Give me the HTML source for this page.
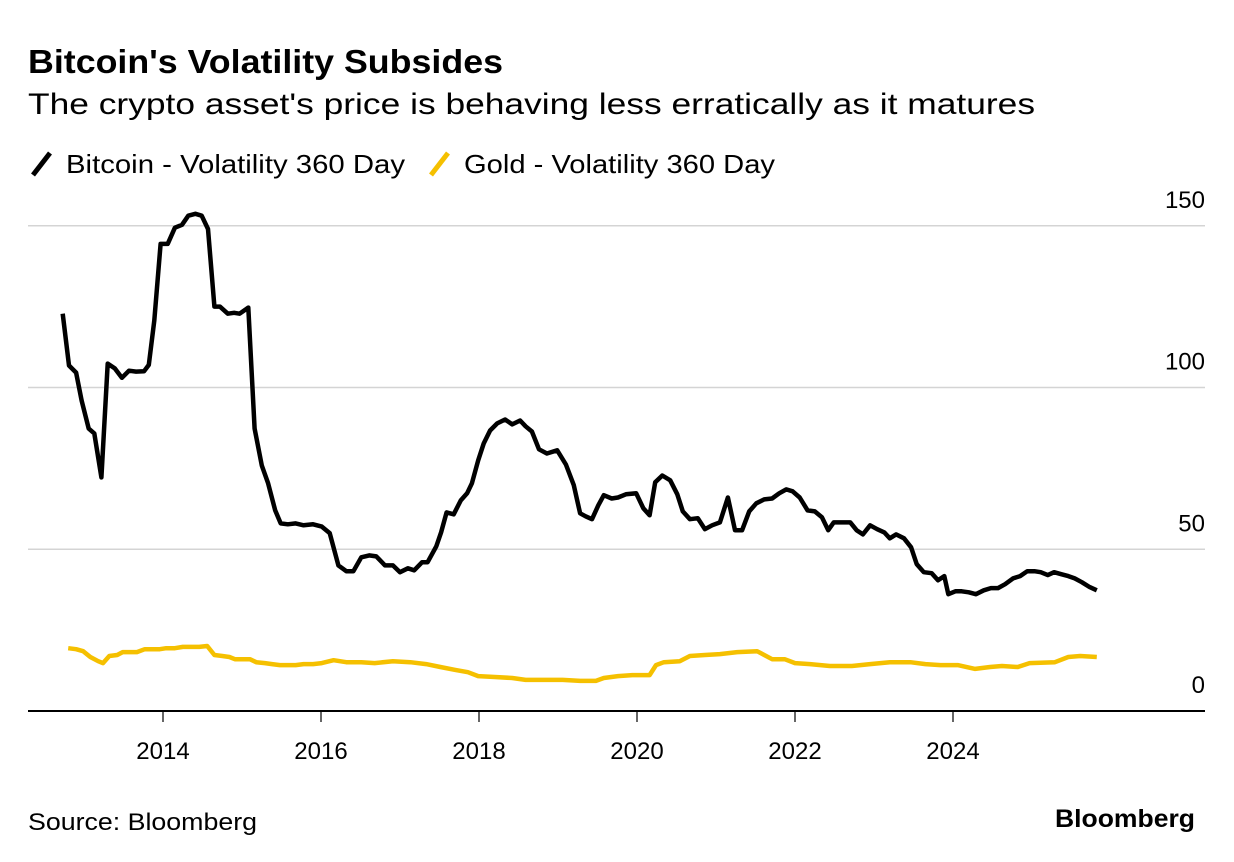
<!DOCTYPE html>
<html><head><meta charset="utf-8"><style>
body{margin:0;background:#fff;width:1234px;height:862px;overflow:hidden;font-family:"Liberation Sans",sans-serif}
svg{position:absolute;left:0;top:0}
</style></head><body>
<svg width="1234" height="862">
<text x="28" y="73" font-size="33" font-weight="bold" fill="#000" textLength="475" lengthAdjust="spacingAndGlyphs">Bitcoin's Volatility Subsides</text>
<text x="28" y="114" font-size="30" fill="#000" textLength="1007" lengthAdjust="spacingAndGlyphs">The crypto asset's price is behaving less erratically as it matures</text>
<g><line x1="33" y1="175" x2="50" y2="153" stroke="#000" stroke-width="5"/><text x="66" y="173" font-size="26" textLength="339" lengthAdjust="spacingAndGlyphs">Bitcoin - Volatility 360 Day</text></g>
<g><line x1="431" y1="175" x2="448" y2="153" stroke="#f5c000" stroke-width="5"/><text x="464" y="173" font-size="26" textLength="311" lengthAdjust="spacingAndGlyphs">Gold - Volatility 360 Day</text></g>
<g id="grid"></g><g id="xaxis"></g><g id="lines"></g>
<text x="28" y="830" font-size="24" textLength="229" lengthAdjust="spacingAndGlyphs">Source: Bloomberg</text>
<text x="1055" y="827" font-size="25" font-weight="bold" textLength="140" lengthAdjust="spacingAndGlyphs">Bloomberg</text>
</svg>
<script>
const yTicks=[0,50,100,150];
const xTicks=[2014,2016,2018,2020,2022,2024];
const btcDates=[2012.73,2012.81,2012.90,2012.97,2013.06,2013.13,2013.22,2013.30,2013.39,2013.48,2013.57,2013.66,2013.76,2013.82,2013.89,2013.97,2014.06,2014.15,2014.24,2014.32,2014.41,2014.49,2014.57,2014.65,2014.72,2014.82,2014.90,2014.97,2015.08,2015.16,2015.25,2015.33,2015.42,2015.49,2015.58,2015.68,2015.78,2015.90,2016.01,2016.11,2016.22,2016.32,2016.41,2016.51,2016.61,2016.70,2016.81,2016.91,2017.00,2017.10,2017.18,2017.28,2017.35,2017.46,2017.52,2017.59,2017.68,2017.77,2017.85,2017.91,2017.99,2018.06,2018.14,2018.23,2018.33,2018.42,2018.52,2018.59,2018.67,2018.76,2018.86,2018.99,2019.10,2019.20,2019.28,2019.35,2019.43,2019.51,2019.58,2019.68,2019.76,2019.86,2019.99,2020.08,2020.16,2020.23,2020.32,2020.42,2020.51,2020.58,2020.67,2020.77,2020.86,2020.95,2021.05,2021.15,2021.24,2021.33,2021.42,2021.51,2021.61,2021.71,2021.80,2021.89,2021.97,2022.06,2022.16,2022.25,2022.34,2022.42,2022.49,2022.59,2022.70,2022.78,2022.86,2022.95,2023.04,2023.13,2023.20,2023.28,2023.38,2023.47,2023.54,2023.63,2023.73,2023.81,2023.89,2023.94,2024.03,2024.11,2024.20,2024.29,2024.39,2024.48,2024.57,2024.66,2024.76,2024.85,2024.94,2025.03,2025.11,2025.20,2025.28,2025.37,2025.46,2025.54,2025.63,2025.73,2025.82];
const btcValues=[122.8,106.8,104.6,96,87.3,85.8,72.2,107.4,105.9,103,105.2,104.9,105,107,120.7,144.4,144.4,149.4,150.3,153.1,153.7,153.1,149,125,125,122.8,123.1,122.8,124.7,87.3,75.9,70.4,62,58,57.7,58,57.4,57.7,57,55,45,43.2,43.2,47.5,48.1,47.8,45,45,42.9,44.1,43.5,46,46,50.9,55.2,61.4,60.8,65.1,67.3,70.4,77.5,82.7,86.7,88.9,90.1,88.6,89.8,88,86.4,80.9,79.6,80.6,76.2,69.8,61.1,60.2,59.3,63.6,66.7,65.7,66,67,67.3,62.7,60.5,70.7,72.8,71.3,67,61.7,59.3,59.6,56.2,57.4,58.3,66,55.9,55.9,61.7,64.2,65.4,65.7,67.3,68.5,67.9,66,62,61.7,59.9,55.9,58.3,58.3,58.3,55.9,54.6,57.4,56.2,55.2,53.4,54.6,53.4,50.6,45.4,42.9,42.6,40.4,41.7,36.1,37,37,36.7,36.1,37.3,38,38,39.2,41,41.7,43.2,43.2,42.9,42,42.9,42.3,41.7,41,39.8,38.3,37.3];
const goldDates=[2012.80,2012.90,2012.99,2013.08,2013.18,2013.24,2013.32,2013.42,2013.49,2013.58,2013.67,2013.77,2013.86,2013.96,2014.04,2014.15,2014.25,2014.34,2014.46,2014.56,2014.65,2014.75,2014.84,2014.91,2015.00,2015.10,2015.18,2015.29,2015.38,2015.48,2015.58,2015.68,2015.78,2015.90,2016.01,2016.16,2016.32,2016.51,2016.68,2016.91,2017.13,2017.33,2017.51,2017.70,2017.86,2017.99,2018.20,2018.42,2018.59,2018.84,2019.06,2019.28,2019.48,2019.58,2019.76,2019.94,2020.16,2020.24,2020.34,2020.54,2020.67,2020.86,2021.05,2021.27,2021.52,2021.71,2021.87,2022.00,2022.19,2022.44,2022.72,2022.95,2023.20,2023.46,2023.65,2023.84,2024.06,2024.28,2024.47,2024.62,2024.82,2024.97,2025.29,2025.46,2025.61,2025.82];
const goldValues=[19.4,19.1,18.5,16.7,15.4,14.8,17,17.3,18.2,18.2,18.2,19.1,19.1,19.1,19.4,19.4,19.8,19.8,19.8,20.1,17.3,17,16.7,16,16,16,15.1,14.8,14.5,14.2,14.2,14.2,14.5,14.5,14.8,15.7,15.1,15.1,14.8,15.4,15.1,14.5,13.6,12.7,12,10.8,10.5,10.2,9.6,9.6,9.6,9.3,9.3,10.2,10.8,11.1,11.1,14.2,15.1,15.4,17,17.3,17.6,18.2,18.5,16,16,14.8,14.5,13.9,13.9,14.5,15.1,15.1,14.5,14.2,14.2,13,13.6,13.9,13.6,14.8,15.1,16.7,17,16.7];
const NS='http://www.w3.org/2000/svg';
const y=v=>711-v*3.235;
const x=d=>163+(d-2014)*79;
const grid=document.getElementById('grid'),xa=document.getElementById('xaxis'),lines=document.getElementById('lines');
function mk(tag,attrs,parent){const e=document.createElementNS(NS,tag);for(const k in attrs)e.setAttribute(k,attrs[k]);parent.appendChild(e);return e;}
yTicks.forEach(t=>{
 if(t>0){const g=mk('line',{x1:28,x2:1205,y1:y(t),y2:y(t),stroke:'#d4d4d4','stroke-width':1.5},grid);
 
 }
 const l=mk('text',{x:1205,y:y(t)-18,'font-size':24,'text-anchor':'end',fill:'#000'},grid);l.textContent=t;
 
 
});
const ax=mk('line',{x1:28,x2:1205,y1:711,y2:711,stroke:'#000','stroke-width':2},xa);


xTicks.forEach(t=>{
 const tk=mk('line',{x1:x(t),x2:x(t),y1:711,y2:722,stroke:'#000','stroke-width':1.2},xa);
 
 
 const l=mk('text',{x:x(t),y:759,'font-size':24,'text-anchor':'middle'},xa);l.textContent=t;
 
 
});
function path(ds,vs){return ds.map((d,i)=>(i?'L':'M')+x(d).toFixed(1)+','+y(vs[i]).toFixed(1)).join('');}
const g=mk('path',{d:path(goldDates,goldValues),fill:'none',stroke:'#f5c000','stroke-width':4.5,'stroke-linejoin':'round'},lines);


const b=mk('path',{d:path(btcDates,btcValues),fill:'none',stroke:'#000','stroke-width':4.5,'stroke-linejoin':'round'},lines);


</script>
</body></html>
